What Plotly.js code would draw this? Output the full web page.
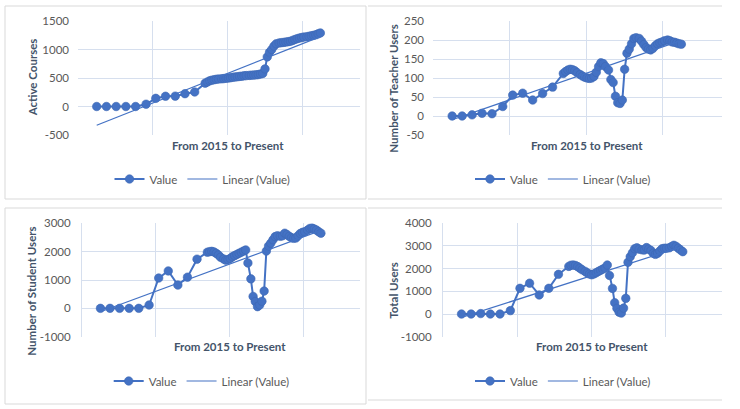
<!DOCTYPE html>
<html>
<head>
<meta charset="utf-8">
<script src="https://cdn.plot.ly/plotly-3.0.1.min.js"></script>
<style>html,body{margin:0;padding:0;background:#fff;}#chart{width:740px;height:409px;}</style>
</head>
<body>
<div id="chart"></div>
<script>
// x positions along the "From 2015 to Present" axis (monthly points, then weekly points)
const xPos = [-0.75,-0.62,-0.49,-0.36,-0.23,-0.09,0.04,0.17,0.30,0.43,0.56,
  0.70,0.73,0.76,0.79,0.82,0.85,0.88,0.92,0.95,0.98,
  1.01,1.04,1.07,1.10,1.13,1.16,1.19,1.22,1.25,1.29,
  1.32,1.35,1.38,1.41,1.44,1.47,1.50,1.53,1.56,1.59,
  1.62,1.65,1.69,1.72,1.75,1.78,1.81,1.84,1.87,1.90,
  1.93,1.96,1.99,2.02,2.06,2.09,2.12,2.15,2.18,2.21,2.24];

const coursesVals = [0,0,0,0,0,40,143,180,182,225,255,
  410,430,450,462,470,478,482,486,490,495,
  500,505,512,518,522,528,532,538,542,546,
  550,552,555,560,570,580,660,870,950,1000,
  1060,1100,1115,1120,1125,1130,1138,1145,1160,1175,
  1190,1200,1210,1218,1225,1232,1240,1248,1258,1275,1290];

const teacherVals = [0,0,3,7,6,25,55,60,42,59,76,
  112,117,121,123,122,119,114,109,105,102,
  100,99,100,104,115,130,140,138,130,121,
  96,88,52,35,33,42,123,165,176,190,
  204,206,204,197,188,180,176,174,178,185,
  190,193,195,198,200,198,195,194,192,190,189];

const studentVals = [0,0,0,0,0,118,1070,1320,820,1100,1735,
  1980,2000,2010,1990,1940,1880,1800,1740,1700,1720,
  1760,1820,1860,1900,1940,1980,2020,2060,1600,1040,
  420,240,60,120,250,610,2020,2200,2300,2420,
  2530,2560,2540,2560,2650,2600,2540,2490,2470,2480,
  2560,2640,2680,2700,2760,2820,2830,2800,2760,2700,2650];

const totalVals = [0,0,20,0,0,150,1133,1360,840,1133,1750,
  2100,2150,2160,2140,2090,2020,1950,1880,1810,1760,
  1730,1770,1820,1880,1930,1980,2030,2160,1700,1130,
  500,250,80,40,260,690,2280,2530,2700,2880,
  2920,2860,2830,2820,2930,2860,2800,2680,2630,2680,
  2780,2880,2900,2900,2920,2980,3030,2980,2900,2820,2750];

// Linear (Value) trendline end points
const trendX = [-0.75, 2.24];
const coursesTrend = [-330, 1225];
const teacherTrend = [-10, 199];
const studentTrend = [-120, 2750];
const totalTrend = [-150, 2980];

// y-axis ticks
const coursesTicks = [-500, 0, 500, 1000, 1500];
const teacherTicks = [-50, 0, 50, 100, 150, 200, 250];
const studentTicks = [-1000, 0, 1000, 2000, 3000];
const totalTicks = [-1000, 0, 1000, 2000, 3000, 4000];

const xTitle = "From 2015 to Present";
const yTitles = ["Active Courses", "Number of Teacher Users", "Number of Student Users", "Total Users"];
const legendNames = ["Value", "Linear (Value)"];

const W = 740, H = 409;
const px = v => v / W;
const py = v => 1 - v / H;

const BLUE = '#4472C4';
const GRID = '#D6DFEE';
const FONT = 'Lato, "Open Sans", "DejaVu Sans", sans-serif';
const TITLE_C = '#44546A';
const TICK_C = '#595959';

const panels = [
  {vals: coursesVals, trend: coursesTrend, ticks: coursesTicks, dom: [78, 360, 21, 135], leftLine: false,
   xt: [228, 145], yt: [32, 77.3], leg: [202.5, 179]},
  {vals: teacherVals, trend: teacherTrend, ticks: teacherTicks, dom: [433, 722, 21, 135], leftLine: false,
   xt: [586.7, 145], yt: [392.7, 88], leg: [563, 179]},
  {vals: studentVals, trend: studentTrend, ticks: studentTicks, dom: [82, 360, 223.3, 336.7], leftLine: true,
   xt: [230, 346.7], yt: [32, 291.7], leg: [201.7, 381]},
  {vals: totalVals, trend: totalTrend, ticks: totalTicks, dom: [443, 722, 223.3, 336.7], leftLine: true,
   xt: [591.7, 346.7], yt: [392.7, 290], leg: [563, 381]}
];

const data = [];
const layout = {
  width: W, height: H,
  margin: {l: 0, r: 0, t: 0, b: 0},
  paper_bgcolor: '#ffffff', plot_bgcolor: 'rgba(0,0,0,0)',
  font: {family: FONT, size: 11.5, color: TICK_C},
  showlegend: true,
  annotations: [], shapes: []
};

panels.forEach((p, i) => {
  const n = i === 0 ? '' : String(i + 1);
  const xa = 'x' + n, ya = 'y' + n;
  const legId = 'legend' + n;
  data.push({
    x: xPos, y: p.vals, type: 'scatter', mode: 'lines+markers', name: legendNames[0],
    xaxis: xa, yaxis: ya, legend: legId,
    line: {color: BLUE, width: 2},
    marker: {color: BLUE, size: 8.5, symbol: 'circle', line: {color: '#3E68B4', width: 0.6}}
  });
  data.push({
    x: trendX, y: p.trend, type: 'scatter', mode: 'lines', name: legendNames[1],
    xaxis: xa, yaxis: ya, legend: legId,
    line: {color: BLUE, width: 1.2}
  });
  layout['xaxis' + n] = {
    domain: [px(p.dom[0]), px(p.dom[1])], anchor: ya,
    range: [-1, 2.77], tickvals: [0, 1, 2], showticklabels: false,
    showgrid: true, gridcolor: GRID, gridwidth: 1, zeroline: false, showline: false, ticks: '',
    fixedrange: true
  };
  layout['yaxis' + n] = {
    domain: [py(p.dom[3]), py(p.dom[2])], anchor: xa,
    range: [p.ticks[0], p.ticks[p.ticks.length - 1]],
    tickvals: p.ticks, ticktext: p.ticks.map(String),
    showgrid: true, gridcolor: GRID, gridwidth: 1, zeroline: false,
    showline: p.leftLine, linecolor: GRID, linewidth: 1, ticks: '',
    ticklabelstandoff: 8,
    tickfont: {family: FONT, size: 11.5, color: TICK_C},
    fixedrange: true
  };
  layout[legId] = {
    orientation: 'h', x: px(p.leg[0]), y: py(p.leg[1]), xanchor: 'center', yanchor: 'middle',
    xref: 'paper', yref: 'paper',
    font: {family: FONT, size: 11.5, color: TICK_C}, bgcolor: 'rgba(0,0,0,0)',
    itemwidth: 30, traceorder: 'normal'
  };
  layout.annotations.push({
    text: '<b>' + xTitle + '</b>', x: px(p.xt[0]), y: py(p.xt[1]), xref: 'paper', yref: 'paper',
    xanchor: 'center', yanchor: 'middle', showarrow: false,
    font: {family: FONT, size: 11.5, color: TITLE_C}
  });
  layout.annotations.push({
    text: '<b>' + yTitles[i] + '</b>', x: px(p.yt[0]), y: py(p.yt[1]), xref: 'paper', yref: 'paper',
    xanchor: 'center', yanchor: 'middle', showarrow: false, textangle: -90,
    font: {family: FONT, size: 11.5, color: TITLE_C}
  });
});

// panel borders
const BORDER = '#D9D9D9';
function seg(x0, y0, x1, y1) {
  layout.shapes.push({type: 'line', xref: 'paper', yref: 'paper',
    x0: px(x0), y0: py(y0), x1: px(x1), y1: py(y1), line: {color: BORDER, width: 1}});
}
// top-left
seg(5, 6, 366, 6); seg(5, 199, 366, 199); seg(5, 6, 5, 199); seg(366, 6, 366, 199);
// top-right
seg(368, 6, 722, 6); seg(368, 199, 722, 199);
// bottom-left
seg(5, 208, 366, 208); seg(5, 404, 366, 404); seg(5, 208, 5, 404); seg(366, 208, 366, 404);
// bottom-right
seg(368, 208, 722, 208); seg(368, 400, 722, 400);

Plotly.newPlot('chart', data, layout, {displayModeBar: false, staticPlot: true});
</script>
</body>
</html>
